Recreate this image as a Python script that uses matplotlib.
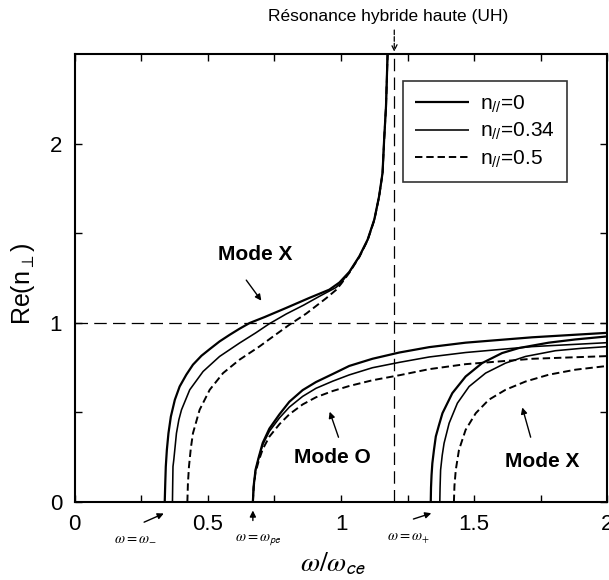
import matplotlib
matplotlib.use('Agg')
import matplotlib.pyplot as plt

plt.rcParams['font.family'] = ['Liberation Sans', 'DejaVu Sans']
plt.rcParams['mathtext.fontset'] = 'custom'
plt.rcParams['mathtext.rm'] = 'Liberation Sans'
plt.rcParams['mathtext.it'] = 'Liberation Sans:italic'
plt.rcParams['mathtext.bf'] = 'Liberation Sans:bold'

# valeurs : omega/omega_ce et Re(n_perp)
# mode X, branche basse (coupure omega_-)
xlow0_w = [0.338, 0.340, 0.342, 0.346, 0.352, 0.361, 0.376, 0.394, 0.419, 0.444, 0.476, 0.507, 0.544, 0.582,
           0.619, 0.657, 0.713, 0.794, 0.881, 0.956, 0.994, 1.031, 1.069, 1.100, 1.125, 1.143, 1.156, 1.162,
           1.169, 1.175]
xlow0_n = [0, 0.105, 0.198, 0.291, 0.384, 0.477, 0.571, 0.645, 0.711, 0.767, 0.817, 0.854, 0.897, 0.934,
           0.968, 1.0, 1.033, 1.084, 1.140, 1.186, 1.226, 1.285, 1.373, 1.466, 1.578, 1.708, 1.839, 2.026,
           2.212, 2.507]
xlow34_w = [0.367, 0.368, 0.369, 0.372, 0.377, 0.382, 0.391, 0.401, 0.432, 0.482, 0.544, 0.619, 0.680, 0.730,
            0.794, 0.860, 0.919, 0.981, 1.000, 1.031, 1.069, 1.100, 1.125, 1.143, 1.156, 1.162, 1.169, 1.175]
xlow34_n = [0, 0.105, 0.198, 0.235, 0.309, 0.384, 0.459, 0.515, 0.627, 0.729, 0.813, 0.888, 0.945, 0.995,
            1.050, 1.100, 1.149, 1.198, 1.224, 1.283, 1.371, 1.464, 1.576, 1.706, 1.837, 2.024, 2.210, 2.505]
xlow5_w = [0.423, 0.425, 0.429, 0.436, 0.444, 0.469, 0.507, 0.557, 0.619, 0.694, 0.750, 0.806, 0.869, 0.944,
           0.981, 1.000, 1.031, 1.069, 1.100, 1.125, 1.143, 1.156, 1.162, 1.169, 1.175]
xlow5_n = [0, 0.100, 0.198, 0.300, 0.384, 0.515, 0.627, 0.720, 0.795, 0.869, 0.930, 0.990, 1.052, 1.138,
           1.184, 1.218, 1.280, 1.369, 1.462, 1.574, 1.704, 1.835, 2.022, 2.208, 2.503]

# mode O (coupure omega_pe)
o_w = [0.669, 0.672, 0.679, 0.691, 0.706, 0.731, 0.769, 0.806, 0.856, 0.906, 0.969, 1.031, 1.118, 1.219,
       1.331, 1.468, 1.718, 2.0]
o0_n = [0, 0.09, 0.18, 0.25, 0.33, 0.41, 0.49, 0.56, 0.625, 0.67, 0.715, 0.76, 0.80, 0.835, 0.865, 0.89,
        0.92, 0.945]
o34_n = [0, 0.085, 0.175, 0.245, 0.32, 0.395, 0.47, 0.53, 0.59, 0.635, 0.675, 0.71, 0.75, 0.78, 0.81, 0.835,
         0.868, 0.89]
o5_n = [0, 0.08, 0.165, 0.23, 0.295, 0.365, 0.435, 0.49, 0.545, 0.585, 0.62, 0.648, 0.68, 0.708, 0.742, 0.77,
        0.80, 0.815]

# mode X, branche haute (coupure omega_+)
xup0_w = [1.337, 1.338, 1.340, 1.343, 1.349, 1.356, 1.368, 1.381, 1.418, 1.468, 1.530, 1.605, 1.668, 1.780,
          1.880, 2.0]
xup0_n = [0, 0.08, 0.15, 0.216, 0.29, 0.366, 0.43, 0.496, 0.608, 0.701, 0.776, 0.832, 0.86, 0.89, 0.908, 0.925]
xup34_w = [1.371, 1.372, 1.374, 1.380, 1.387, 1.406, 1.437, 1.481, 1.543, 1.618, 1.693, 1.805, 1.900, 2.0]
xup34_n = [0, 0.08, 0.179, 0.26, 0.328, 0.44, 0.552, 0.645, 0.720, 0.776, 0.813, 0.845, 0.858, 0.868]
xup5_w = [1.424, 1.426, 1.431, 1.443, 1.468, 1.506, 1.555, 1.618, 1.693, 1.780, 1.880, 2.0]
xup5_n = [0, 0.09, 0.179, 0.291, 0.403, 0.496, 0.571, 0.627, 0.673, 0.711, 0.739, 0.76]

labels = ['n$_{\\mathit{//}}$=0', 'n$_{\\mathit{//}}$=0.34', 'n$_{\\mathit{//}}$=0.5']
w_uh = 1.2

fig = plt.figure(figsize=(6.09, 5.80), dpi=100)
ax = fig.add_axes([0.1227, 0.1345, 0.8745, 0.7716])

st0 = dict(color='k', lw=1.6, solid_capstyle='butt')
st34 = dict(color='k', lw=1.15, solid_capstyle='butt')
st5 = dict(color='k', lw=1.4, linestyle=(0, (3.8, 2.0)))

ax.axhline(1, color='k', lw=0.9, dashes=(10, 5))
ax.axvline(w_uh, color='k', lw=0.9, dashes=(10, 5))

l0, = ax.plot(xlow0_w, xlow0_n, **st0)
ax.plot(o_w, o0_n, **st0)
ax.plot(xup0_w, xup0_n, **st0)
l34, = ax.plot(xlow34_w, xlow34_n, **st34)
ax.plot(o_w, o34_n, **st34)
ax.plot(xup34_w, xup34_n, **st34)
l5, = ax.plot(xlow5_w, xlow5_n, **st5)
ax.plot(o_w, o5_n, **st5)
ax.plot(xup5_w, xup5_n, **st5)

ax.set_xlim(0, 2)
ax.set_ylim(0, 2.5)
ax.set_xticks([0, 0.5, 1, 1.5, 2])
ax.set_xticklabels(['0', '0.5', '1', '1.5', '2'])
ax.set_xticks([0.25, 0.75, 1.25, 1.75], minor=True)
ax.set_yticks([0, 1, 2])
ax.set_yticks([0.5, 1.5], minor=True)
ax.tick_params(which='both', direction='in', top=True, right=True, length=5, width=1)
ax.tick_params(which='major', labelsize=16, pad=9)
for s in ax.spines.values():
    s.set_linewidth(1.5)

ax.set_xlabel(r'$\omega/\omega_{\mathsf{ce}}$', fontsize=20, math_fontfamily='stix')
ax.xaxis.set_label_coords(0.486, -0.108)
ax.set_ylabel(r'Re(n$_{\perp}$)', fontsize=18)
ax.yaxis.set_label_coords(-0.07, 0.487)

leg = ax.legend([l0, l34, l5], labels, loc='upper left', bbox_to_anchor=(0.6155, 0.9405),
                fontsize=15, frameon=True, fancybox=False, edgecolor='k', handlelength=2.6,
                handletextpad=0.5, labelspacing=0.3, borderpad=0.6, borderaxespad=0)
leg.get_frame().set_linewidth(1.2)

# étiquettes des modes
arr = dict(arrowstyle='-|>', color='k', lw=1, mutation_scale=9)
ax.text(0.676, 1.382, 'Mode X', ha='center', va='center', fontsize=15, weight='bold')
ax.annotate('', xy=(0.707, 1.112), xytext=(0.638, 1.252), arrowprops=arr)
ax.text(0.968, 0.249, 'Mode O', ha='center', va='center', fontsize=15, weight='bold')
ax.annotate('', xy=(0.954, 0.519), xytext=(0.994, 0.347), arrowprops=arr)
ax.text(1.755, 0.224, 'Mode X', ha='center', va='center', fontsize=15, weight='bold')
ax.annotate('', xy=(1.678, 0.543), xytext=(1.715, 0.347), arrowprops=arr)

# coupures sous l'axe
ax.text(0.226, -0.196, r'$\omega=\omega_{-}$', ha='center', va='center', fontsize=10.5, math_fontfamily='stix')
ax.annotate('', xy=(0.344, -0.058), xytext=(0.251, -0.119), arrowprops=arr, annotation_clip=False)
ax.text(0.690, -0.207, r'$\omega=\omega_{\mathsf{pe}}$', ha='center', va='center', fontsize=10.5,
        math_fontfamily='stix')
ax.annotate('', xy=(0.669, -0.032), xytext=(0.669, -0.119), arrowprops=arr, annotation_clip=False)
ax.text(1.252, -0.204, r'$\omega=\omega_{+}$', ha='center', va='center', fontsize=10.5, math_fontfamily='stix')
ax.annotate('', xy=(1.349, -0.058), xytext=(1.262, -0.10), arrowprops=arr, annotation_clip=False)

# résonance hybride haute
fig.text(0.637, 0.972, 'Résonance hybride haute (UH)', ha='center', va='center', fontsize=12.5)
ax.annotate('', xy=(w_uh, 2.5), xytext=(w_uh, 2.652),
            arrowprops=dict(arrowstyle='->', color='k', lw=0.9, linestyle='--'), annotation_clip=False)

fig.savefig('out.png', dpi=100)
